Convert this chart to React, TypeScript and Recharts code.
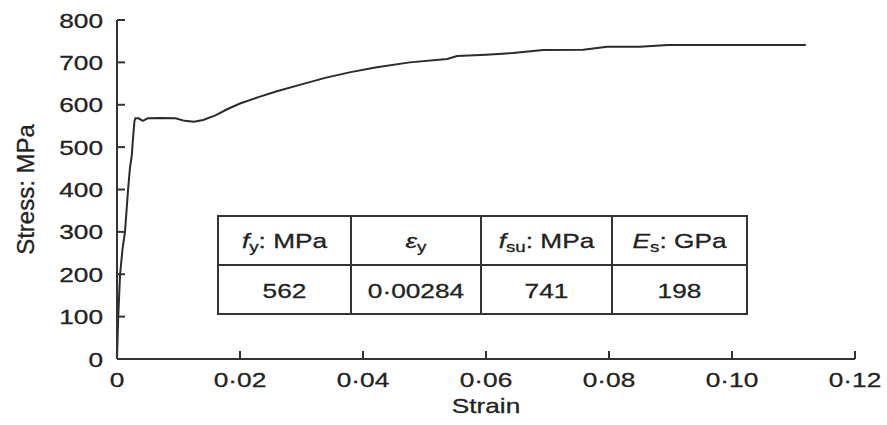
import React from 'react';
import {
  LineChart, Line, XAxis, YAxis, Customized, Label,
} from 'recharts';

// measured stress-strain curve of the reinforcing bar
const strain = [
  0, 0.0002, 0.0005, 0.0009, 0.0013, 0.0018, 0.0021, 0.0024, 0.0026,
  0.00284, 0.003, 0.0035, 0.0042, 0.005, 0.007, 0.0095, 0.011, 0.0125, 0.014,
  0.016, 0.018, 0.02, 0.023, 0.026, 0.03, 0.034, 0.038, 0.042, 0.0476,
  0.0537, 0.0553, 0.06, 0.0644, 0.0693, 0.0758, 0.0797, 0.085, 0.0896, 0.1, 0.112,
];
const stress = [
  0, 100, 200, 260, 300, 400, 450, 480, 520,
  562, 568, 568, 562, 568, 569, 568, 562, 560, 564,
  575, 590, 603, 618, 632, 648, 664, 677, 688, 700,
  708, 715, 718, 722, 729, 730, 737, 737, 741, 741, 741,
];

const xTicks = [0, 0.02, 0.04, 0.06, 0.08, 0.1, 0.12];
const yTicks = [0, 100, 200, 300, 400, 500, 600, 700, 800];

// material properties shown in the inset table
const fy = 562;
const epsY = 0.00284;
const fsu = 741;
const Es = 198;

const data = strain.map((s, i) => ({ strain: s, stress: stress[i] }));

const FONT = '"Liberation Sans", Arial, sans-serif';
const INK = '#222';
const WIDE = 1.25;

const fmt = (v: number, digits = 2) => (v === 0 ? '0' : v.toFixed(digits).replace('.', '·'));

const WideText = ({ x, y, anchor = 'middle', dy = 0, children }: any) => (
  <text
    transform={`translate(${x},${y}) scale(${WIDE},1)`}
    textAnchor={anchor}
    dy={dy}
    fontFamily={FONT}
    fontSize={21}
    fill={INK}
    stroke={INK}
    strokeWidth={0.3}
  >
    {children}
  </text>
);

const XTick = ({ x, y, payload }: any) => (
  <WideText x={x} y={y} dy="0.71em">{fmt(payload.value)}</WideText>
);

const YTick = ({ x, y, payload }: any) => (
  <WideText x={x} y={y} anchor="end" dy="0.36em">{payload.value}</WideText>
);

const sub = { fontSize: 15, baselineShift: '-25%' } as any;

const PropsTable = () => {
  const cols = [218, 351, 481, 612, 747];
  const rows = [216, 265, 314];
  const head = [
    <><tspan fontStyle="italic">f</tspan><tspan style={sub}>y</tspan><tspan>: MPa</tspan></>,
    <><tspan fontStyle="italic">ε</tspan><tspan style={sub}>y</tspan></>,
    <><tspan fontStyle="italic">f</tspan><tspan style={sub}>su</tspan><tspan>: MPa</tspan></>,
    <><tspan fontStyle="italic">E</tspan><tspan style={sub}>s</tspan><tspan>: GPa</tspan></>,
  ];
  const vals = [String(fy), fmt(epsY, 5), String(fsu), String(Es)];
  return (
    <g>
      <rect x={cols[0]} y={rows[0]} width={cols[4] - cols[0]} height={rows[2] - rows[0]}
        fill="#fff" stroke="#333" strokeWidth={2} />
      <line x1={cols[0]} x2={cols[4]} y1={rows[1]} y2={rows[1]} stroke="#333" strokeWidth={2} />
      {cols.slice(1, 4).map((c) => (
        <line key={c} x1={c} x2={c} y1={rows[0]} y2={rows[2]} stroke="#333" strokeWidth={2} />
      ))}
      {head.map((h, i) => (
        <WideText key={`h${i}`} x={(cols[i] + cols[i + 1]) / 2} y={rows[0] + 32}>{h}</WideText>
      ))}
      {vals.map((v, i) => (
        <WideText key={`v${i}`} x={(cols[i] + cols[i + 1]) / 2} y={rows[1] + 33}>{v}</WideText>
      ))}
    </g>
  );
};

export default function App() {
  return (
    <div style={{ position: 'absolute', left: 0, top: 0, background: '#fff' }}>
      <LineChart width={887} height={425} data={data}
        margin={{ top: 20, right: 32, bottom: 16, left: 57 }}>
        <XAxis
          dataKey="strain"
          type="number"
          domain={[0, 0.12]}
          ticks={xTicks}
          tick={<XTick />}
          tickSize={-8}
          tickMargin={21}
          height={50}
          stroke="#333"
          strokeWidth={2}
        >
          <Label
            content={({ viewBox }: any) => (
              <WideText x={viewBox.x + viewBox.width / 2} y={413}>Strain</WideText>
            )}
          />
        </XAxis>
        <YAxis
          type="number"
          domain={[0, 800]}
          ticks={yTicks}
          tick={<YTick />}
          tickSize={-8}
          tickMargin={22}
          width={60}
          stroke="#333"
          strokeWidth={2}
        >
          <Label
            content={({ viewBox }: any) => (
              <text
                x={25}
                y={viewBox.y + viewBox.height / 2}
                transform={`rotate(-90, 25, ${viewBox.y + viewBox.height / 2})`}
                textAnchor="middle"
                dominantBaseline="central"
                fontFamily={FONT}
                fontSize={24}
                fill={INK}
                stroke={INK}
                strokeWidth={0.3}
              >
                Stress: MPa
              </text>
            )}
          />
        </YAxis>
        <Line
          dataKey="stress"
          type="linear"
          stroke="#2b2b2b"
          strokeWidth={2}
          dot={false}
          isAnimationActive={false}
        />
        <Customized component={<PropsTable />} />
      </LineChart>
    </div>
  );
}
